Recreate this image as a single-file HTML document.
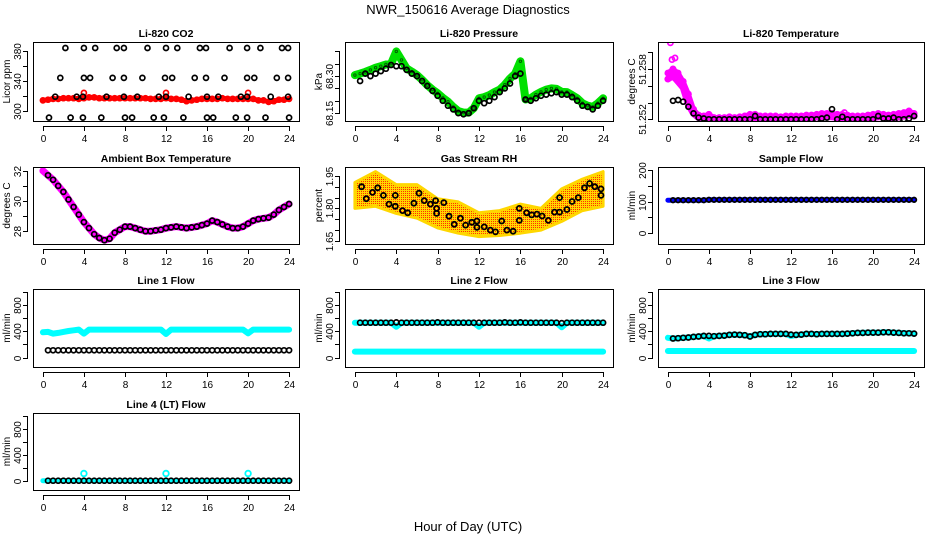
<!DOCTYPE html>
<html><head><meta charset="utf-8">
<style>
html,body{margin:0;padding:0;background:#fff;}
svg{display:block;font-family:"Liberation Sans",sans-serif;}
</style></head>
<body>
<svg id="fig" width="936" height="540" viewBox="0 0 936 540" xmlns="http://www.w3.org/2000/svg">
<defs>
<pattern id="rhpat" width="2" height="2" patternUnits="userSpaceOnUse">
<rect width="2" height="2" fill="#ffd700"/><rect x="1" y="1" width="1" height="1" fill="#ff3000"/>
</pattern>
</defs>
<text x="468" y="14" text-anchor="middle" font-size="13">NWR_150616  Average Diagnostics</text>
<text x="468" y="531" text-anchor="middle" font-size="13">Hour of Day (UTC)</text>
</svg>
<script>
// ---------- data ----------
const hours = [0,0.5,1,1.5,2,2.5,3,3.5,4,4.5,5,5.5,6,6.5,7,7.5,8,8.5,9,9.5,10,10.5,11,11.5,12,12.5,13,13.5,14,14.5,15,15.5,16,16.5,17,17.5,18,18.5,19,19.5,20,20.5,21,21.5,22,22.5,23,23.5,24];
const hoursB = [0.5,1,1.5,2,2.5,3,3.5,4,4.5,5,5.5,6,6.5,7,7.5,8,8.5,9,9.5,10,10.5,11,11.5,12,12.5,13,13.5,14,14.5,15,15.5,16,16.5,17,17.5,18,18.5,19,19.5,20,20.5,21,21.5,22,22.5,23,23.5,24];
const xTicks = [0,4,8,12,16,20,24];
const spikeHours = [4,12,20];

// CO2
const co2Red = [314,315,316,316,317,317,317,316,317,318,318,317,317,317,317,317,317,317,317,317,317,316,316,316,317,316,316,315,313,314,315,316,316,316,316,317,316,316,316,316,316,316,314,314,312,313,315,315,316];
const co2RedOut = [324,324,324];
const co2BlackHours = [2.2,4.0,5.1,7.2,7.9,10.2,12.0,13.1,15.3,15.9,18.2,19.9,21.2,23.3,23.9, 1.7,4.0,4.6,6.8,7.9,9.7,11.9,12.6,14.8,15.9,17.7,19.9,20.6,22.8,23.9, 1.2,3.3,3.9,6.2,7.9,9.2,11.3,12.0,14.2,16.0,17.1,19.3,19.9,22.2,23.9, 0.6,2.7,3.9,5.7,8.0,8.7,10.8,11.8,13.7,16.0,16.6,18.8,19.9,21.7,24.0];
const co2BlackValues = [384,384,384,384,384,384,384,384,384,384,384,384,384,384,384, 344,344,344,344,344,344,344,344,344,344,344,344,344,344,344, 319,319,319,319,319,319,319,319,319,319,319,319,319,319,319, 291,291,291,291,291,291,291,291,291,291,291,291,291,291,291];

// Pressure
const pressGreen = [68.304,68.31,68.317,68.325,68.334,68.34,68.347,68.35,68.40,68.365,68.331,68.318,68.304,68.285,68.263,68.245,68.23,68.212,68.196,68.175,68.158,68.152,68.152,68.17,68.21,68.215,68.223,68.235,68.245,68.265,68.29,68.31,68.36,68.205,68.21,68.225,68.236,68.245,68.25,68.248,68.236,68.235,68.223,68.21,68.19,68.18,68.175,68.19,68.21];
const pressBlack = [68.28,68.31,68.30,68.31,68.32,68.33,68.345,68.34,68.34,68.325,68.31,68.30,68.28,68.26,68.24,68.22,68.20,68.18,68.165,68.15,68.145,68.15,68.17,68.20,68.19,68.20,68.215,68.235,68.25,68.27,68.30,68.31,68.205,68.20,68.21,68.22,68.225,68.23,68.235,68.225,68.225,68.215,68.20,68.18,68.175,68.165,68.18,68.20];

// Li-820 temperature
const tempMag = [51.2568,51.2572,51.2565,51.2558,51.2538,51.2527,51.2522,51.2521,51.2522,51.2520,51.2520,51.2520,51.2521,51.2520,51.2521,51.2521,51.2522,51.2522,51.2521,51.2521,51.2521,51.2521,51.2521,51.2521,51.2521,51.2521,51.2521,51.2522,51.2522,51.2523,51.2523,51.2523,51.2523,51.2522,51.2522,51.2522,51.2521,51.2521,51.2521,51.2522,51.2522,51.2523,51.2523,51.2522,51.2522,51.2523,51.2524,51.2526,51.2524];
const tempMagHigh = [51.2575,51.2580,51.2575,51.2565,51.2550,51.2532,51.2525,51.2524,51.2526,51.2522,51.2522,51.2522,51.2523,51.2522,51.2523,51.2524,51.2526,51.2526,51.2524,51.2524,51.2524,51.2524,51.2523,51.2524,51.2524,51.2524,51.2524,51.2525,51.2525,51.2526,51.2527,51.2527,51.2527,51.2526,51.2526,51.2525,51.2524,51.2524,51.2524,51.2525,51.2526,51.2527,51.2526,51.2525,51.2526,51.2527,51.2528,51.2530,51.2527];
const tempMagOutHours = [0.25,0.4,0.7,17.2,23.5];
const tempMagOut = [51.2611,51.2591,51.2593,51.2528,51.2529];
const tempBlack = [51.2542,51.2543,51.2541,51.2535,51.2527,51.2522,51.2521,51.2520,51.2520,51.2520,51.2520,51.2520,51.2520,51.2520,51.2520,51.2520,51.2524,51.2520,51.2520,51.2520,51.2520,51.2520,51.2520,51.2520,51.2520,51.2520,51.2520,51.2520,51.2520,51.2521,51.2522,51.2532,51.2520,51.2523,51.2520,51.2520,51.2520,51.2520,51.2520,51.2520,51.2524,51.2521,51.2521,51.2522,51.2520,51.2520,51.2521,51.2524];

// Ambient box temperature
const ambient = [32.0,31.7,31.4,31.0,30.6,30.1,29.6,29.1,28.6,28.2,27.8,27.55,27.4,27.5,27.9,28.1,28.3,28.3,28.2,28.1,28.0,28.0,28.05,28.1,28.2,28.25,28.3,28.25,28.2,28.25,28.3,28.4,28.5,28.7,28.6,28.45,28.3,28.2,28.2,28.3,28.5,28.7,28.8,28.85,28.9,29.1,29.4,29.6,29.8];
const ambientBlack = [31.7,31.4,31.0,30.6,30.1,29.6,29.1,28.6,28.2,27.8,27.55,27.4,27.5,27.9,28.1,28.3,28.3,28.2,28.1,28.0,28.0,28.05,28.1,28.2,28.25,28.3,28.25,28.2,28.25,28.3,28.4,28.5,28.7,28.6,28.45,28.3,28.2,28.2,28.3,28.5,28.7,28.8,28.85,28.9,29.1,29.4,29.6,29.8];

// Gas stream RH
const rhBandHours = [0,2,4,6,8,10,12,14,16,18,20,22,24];
const rhUpper = [1.92,1.97,1.91,1.91,1.845,1.83,1.78,1.79,1.82,1.80,1.89,1.935,1.97];
const rhLower = [1.80,1.81,1.777,1.755,1.71,1.686,1.67,1.675,1.686,1.70,1.74,1.79,1.81];
const rhBlackHours = [0.65,1.1,1.7,2.2,2.75,3.3,3.9,3.9,4.6,5.1,5.7,6.2,6.7,7.3,7.8,7.9,7.9,8.6,9.1,9.6,10.2,10.7,11.3,11.8,11.8,12.5,13.1,13.6,14.2,14.7,15.3,15.9,15.9,16.6,17.1,17.6,18.1,18.7,19.3,19.8,19.8,20.5,21.0,21.6,22.2,22.7,23.2,23.8,23.8];
const rhBlack = [1.90,1.845,1.874,1.895,1.86,1.82,1.86,1.81,1.79,1.78,1.824,1.87,1.836,1.82,1.836,1.80,1.777,1.827,1.764,1.727,1.755,1.723,1.736,1.742,1.713,1.715,1.70,1.692,1.742,1.70,1.695,1.80,1.745,1.78,1.77,1.774,1.765,1.745,1.783,1.783,1.85,1.795,1.832,1.85,1.895,1.915,1.90,1.89,1.86];

// Sample flow
const sampleBlue = [105,105,105,105,105,105,105,105,106,106,106,106,106,106,106,106,106,106,106,106,106,106,106,106,106,106,106,106,106,106,106,106,106,106,106,106,106,106,106,106,106,106,106,106,106,106,106,106,106];
const sampleBlack = [105,105,105,105,105,105,105,106,106,106,106,106,106,106,106,106,106,106,106,106,106,106,106,106,106,106,106,106,106,106,106,106,106,106,106,106,106,106,106,106,106,106,106,106,106,106,106,106];

// Line flows
const line1Cyan = [385,390,365,375,390,405,415,425,365,425,425,425,425,425,425,425,425,425,425,425,425,425,425,425,360,425,425,425,425,425,425,425,425,425,425,425,425,425,425,425,370,425,425,425,425,425,425,425,425];
const line1Black = [110,110,110,110,110,110,110,110,110,110,110,110,110,110,110,110,110,110,110,110,110,110,110,110,110,110,110,110,110,110,110,110,110,110,110,110,110,110,110,110,110,110,110,110,110,110,110,110];
const line2CyanHigh = [530,530,530,530,530,530,530,530,470,530,530,530,530,530,530,530,530,530,530,530,530,530,530,530,470,530,530,530,530,530,530,530,530,530,530,530,530,530,530,530,460,530,530,530,530,530,530,530,530];
const line2CyanLow = [90,90,90,90,90,90,90,90,90,90,90,90,90,90,90,90,90,90,90,90,90,90,90,90,90,90,90,90,90,90,90,90,90,90,90,90,90,90,90,90,90,90,90,90,90,90,90,90,90];
const line2Black = [530,530,530,530,530,530,530,535,530,530,530,530,530,530,530,535,530,530,530,530,530,530,530,530,530,530,530,530,535,530,530,535,530,530,530,530,530,530,530,525,530,530,530,530,530,530,530,530];
const line3CyanHigh = [300,290,295,300,305,315,320,330,290,325,330,335,345,350,345,340,320,345,355,355,360,360,360,360,330,345,350,360,360,355,360,360,360,360,360,365,370,375,375,380,380,380,385,385,380,375,370,370,365];
const line3CyanLow = [100,100,100,100,100,100,100,100,100,100,100,100,100,100,100,100,100,100,100,100,100,100,100,100,100,100,100,100,100,100,100,100,100,100,100,100,100,100,100,100,100,100,100,100,100,100,100,100,100];
const line3Black = [290,295,300,305,315,320,330,330,325,330,335,345,350,345,340,320,345,355,355,360,360,360,360,350,345,350,360,360,355,360,360,360,360,360,365,370,375,375,380,380,380,385,385,380,375,370,370,365];
const line4Cyan = [0,0,0,0,0,0,0,0,0,0,0,0,0,0,0,0,0,0,0,0,0,0,0,0,0,0,0,0,0,0,0,0,0,0,0,0,0,0,0,0,0,0,0,0,0,0,0,0,0];
const line4Spikes = [110,110,110];
const line4Black = [0,0,0,0,0,0,0,0,0,0,0,0,0,0,0,0,0,0,0,0,0,0,0,0,0,0,0,0,0,0,0,0,0,0,0,0,0,0,0,0,0,0,0,0,0,0,0,0];

const flowTicks = [0,200,400,600,800,1000];
const flowLabels = ['0','','400','','800',''];

// ---------- drawing ----------
const NS = 'http://www.w3.org/2000/svg';
const svg = document.getElementById('fig');
const COLS = [[33,299],[345,613],[658,924]];
const ROWS = [[42,121],[167,244],[289,367],[413,490]];
function mk(tag, attrs, parent){ const e=document.createElementNS(NS,tag); for(const k in attrs) e.setAttribute(k,attrs[k]); (parent||svg).appendChild(e); return e; }

function panel(col,row,name,title,ylab,ylim,yticks,ylabels){
  const [L,R]=COLS[col], [T,B]=ROWS[row];
  const g = mk('g',{});
  
  
  const xs = h => L + (h+0.96)/25.92*(R-L);
  const ys = v => B - (v-ylim[0])/(ylim[1]-ylim[0])*(B-T);
  const t = mk('text',{x:(L+R)/2,y:T-5,'text-anchor':'middle','font-size':10.5,'font-weight':'bold'},g);
  t.textContent = title;
  
  
  const yl = mk('text',{x:0,y:0,'text-anchor':'middle','font-size':10,transform:`translate(${L-23},${(T+B)/2}) rotate(-90)`},g);
  yl.textContent = ylab;
  
  
  const ax = mk('g',{stroke:'#000','stroke-width':1},g);
  
  
  xTicks.forEach(h=>{ const x=Math.round(xs(h))+0.5; mk('line',{x1:x,x2:x,y1:B+5,y2:B+10},ax);
    const lt=mk('text',{x:x,y:B+21,'text-anchor':'middle','font-size':10,stroke:'none'},ax); lt.textContent=h; });
  mk('line',{x1:Math.round(xs(0))+0.5,x2:Math.round(xs(24))+0.5,y1:B+5.5,y2:B+5.5},ax);
  yticks.forEach((v,i)=>{ const y=Math.round(ys(v))+0.5; mk('line',{x1:L-10,x2:L-5,y1:y,y2:y},ax);
    if(ylabels[i]){ const lt=mk('text',{x:0,y:0,'text-anchor':'middle','font-size':10,stroke:'none',transform:`translate(${L-12},${y}) rotate(-90)`},ax); lt.textContent=ylabels[i]; } });
  mk('line',{x1:L-5.5,x2:L-5.5,y1:Math.round(ys(yticks[0]))+0.5,y2:Math.round(ys(yticks[yticks.length-1]))+0.5},ax);
  const clip = 'clip-'+name;
  const cp = mk('clipPath',{id:clip},g); mk('rect',{x:L,y:T,width:R-L,height:B-T},cp);
  const plot = mk('g',{'clip-path':`url(#${clip})`},g);
  
  
  mk('rect',{x:L+0.5,y:T+0.5,width:R-L,height:B-T,fill:'none',stroke:'#000'},g);
  return {g:plot,xs,ys};
}
function band(p,xh,vals,color,w,nm){
  const pts = vals.map((v,i)=>p.xs(xh[i]).toFixed(1)+','+p.ys(v).toFixed(1)).join(' ');
  const e = mk('polyline',{points:pts,fill:'none',stroke:color,'stroke-width':w,'stroke-linejoin':'round','stroke-linecap':'round'},p.g);
  
  
}
function pts(p,xh,vals,color,r,nm,sw){
  const g = mk('g',{fill:'none',stroke:color,'stroke-width':sw||1.7},p.g);
  
  
  vals.forEach((v,i)=>{ const c=mk('circle',{cx:p.xs(xh[i]).toFixed(1),cy:p.ys(v).toFixed(1),r:r},g);
    
     });
}

// Row 1
let p = panel(0,0,'co2','Li-820 CO2','Licor ppm',[286.5,392],[300,320,340,360,380],['300','','340','','380']);
band(p,hours,co2Red,'#ff0000',5,'co2-red-series');
pts(p,hours,co2Red,'#ff0000',2.5,'co2-red-points');
pts(p,spikeHours,co2RedOut,'#ff0000',2.5,'co2-red-outliers');
pts(p,co2BlackHours,co2BlackValues,'#000',2.5,'co2-black-points');

p = panel(1,0,'pressure','Li-820 Pressure','kPa',[68.118,68.438],[68.15,68.20,68.25,68.30,68.35,68.40],['68.15','','','68.30','','']);
band(p,hours,pressGreen,'#00e000',8,'pressure-green-series');
pts(p,hours,pressGreen,'#006000',1.2,'pressure-green-dots',1);
pts(p,hoursB,pressBlack,'#000',2.5,'pressure-black-points');

p = panel(2,0,'li820-temp','Li-820 Temperature','degrees C',[51.2518,51.2612],[51.252,51.254,51.256,51.258,51.260],['51.252','','','51.258','']);
band(p,hours,tempMagHigh,'#ff00ff',5,'temp-magenta-upper-series');
band(p,hours,tempMag,'#ff00ff',7,'temp-magenta-series');
pts(p,hours,tempMagHigh,'#ff00ff',2.6,'temp-magenta-points');
pts(p,tempMagOutHours,tempMagOut,'#ff00ff',2.6,'temp-magenta-outliers');
pts(p,hoursB,tempBlack,'#000',2.5,'temp-black-points');

// Row 2
p = panel(0,1,'ambient','Ambient Box Temperature','degrees C',[27.15,32.25],[28,29,30,31,32],['28','','30','','32']);
band(p,hours,ambient,'#ff00ff',7,'ambient-magenta-series');
pts(p,hoursB,ambientBlack,'#000',2.5,'ambient-black-points');

p = panel(1,1,'rh','Gas Stream RH','percent',[1.636,1.991],[1.65,1.70,1.75,1.80,1.85,1.90,1.95],['1.65','','','1.80','','','1.95']);
{
  const up = rhUpper.map((v,i)=>p.xs(rhBandHours[i]).toFixed(1)+','+p.ys(v).toFixed(1));
  const lo = rhLower.map((v,i)=>p.xs(rhBandHours[i]).toFixed(1)+','+p.ys(v).toFixed(1)).reverse();
  const poly = mk('polygon',{points:up.concat(lo).join(' '),fill:'url(#rhpat)',stroke:'#ffd700','stroke-width':3,'stroke-linejoin':'round'},p.g);
  
  
}
pts(p,rhBlackHours,rhBlack,'#000',2.5,'rh-black-points',1.8);

p = panel(2,1,'sample-flow','Sample Flow','ml/min',[-34.5,210.5],[0,50,100,150,200],['0','','100','','200']);
band(p,hours,sampleBlue,'#0000ff',5,'sample-blue-series');
pts(p,hoursB,sampleBlack,'#000',2.3,'sample-black-points');

// Row 3
p = panel(0,2,'line1','Line 1 Flow','ml/min',[-144,1044],flowTicks,flowLabels);
band(p,hours,line1Cyan,'#00ffff',6,'line1-cyan-series');
pts(p,hoursB,line1Black,'#000',2.5,'line1-black-points');

p = panel(1,2,'line2','Line 2 Flow','ml/min',[-144,1044],flowTicks,flowLabels);
band(p,hours,line2CyanLow,'#00ffff',6,'line2-cyan-low-series');
band(p,hours,line2CyanHigh,'#00ffff',6,'line2-cyan-high-series');
pts(p,hoursB,line2Black,'#000',2.5,'line2-black-points');

p = panel(2,2,'line3','Line 3 Flow','ml/min',[-144,1044],flowTicks,flowLabels);
band(p,hours,line3CyanLow,'#00ffff',6,'line3-cyan-low-series');
band(p,hours,line3CyanHigh,'#00ffff',6,'line3-cyan-high-series');
pts(p,hoursB,line3Black,'#000',2.5,'line3-black-points');

// Row 4
p = panel(0,3,'line4','Line 4 (LT) Flow','ml/min',[-144,1044],flowTicks,flowLabels);
band(p,hours,line4Cyan,'#00ffff',5,'line4-cyan-series');
pts(p,spikeHours,line4Spikes,'#00ffff',2.8,'line4-cyan-spikes',1.8);
pts(p,hoursB,line4Black,'#000',2.5,'line4-black-points');
</script>
</body></html>
